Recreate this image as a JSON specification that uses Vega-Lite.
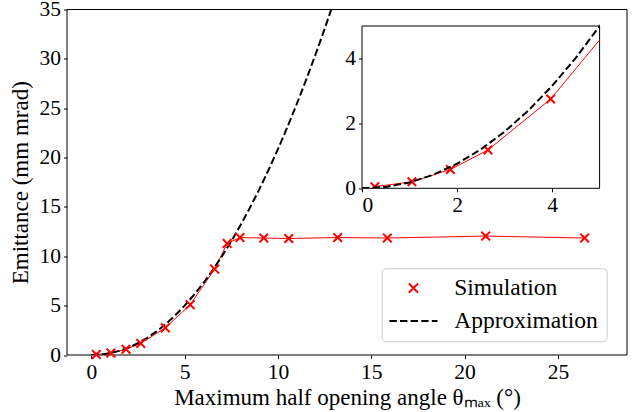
{
  "$schema": "https://vega.github.io/schema/vega-lite/v6.json",
  "autosize": {"type": "none"},
  "padding": {"left": 67, "top": 9.5, "right": 576, "bottom": 402.5},
  "bounds": "flush",
  "spacing": 0,
  "background": "white",
  "resolve": {"legend": {"color": "independent", "shape": "independent", "strokeDash": "independent"}, "scale": {"color": "independent", "shape": "independent", "strokeDash": "independent"}},
  "config": {
    "font": "Liberation Serif",
    "axis": {
      "labelFont": "Liberation Serif",
      "labelFontSize": 21.5,
      "labelColor": "black",
      "tickColor": "black",
      "domainColor": "black",
      "tickSize": 3.5,
      "labelPadding": 3,
      "grid": false,
      "titleFont": "Liberation Serif",
      "titleFontSize": 23,
      "titleFontWeight": "normal",
      "titleColor": "black"
    },
    "legend": {
      "orient": "none",
      "legendX": 314.7,
      "legendY": 258.8,
      "labelFont": "Liberation Serif",
      "labelFontSize": 23.5,
      "labelColor": "black",
      "padding": 8,
      "rowPadding": 8,
      "labelOffset": 29,
      "symbolOffset": 12,
      "symbolSize": 342,
      "symbolStrokeWidth": 2,
      "strokeColor": "#cccccc",
      "fillColor": "white",
      "cornerRadius": 4
    }
  },
  "datasets": {
    "sim": [
      {"t": 0.27, "e": 0.05},
      {"t": 1.05, "e": 0.2},
      {"t": 1.86, "e": 0.58},
      {"t": 2.65, "e": 1.18},
      {"t": 3.97, "e": 2.75},
      {"t": 5.3, "e": 5.1},
      {"t": 6.61, "e": 8.7},
      {"t": 7.28, "e": 11.3},
      {"t": 7.97, "e": 11.9},
      {"t": 9.24, "e": 11.85},
      {"t": 10.58, "e": 11.8},
      {"t": 13.2, "e": 11.9},
      {"t": 15.86, "e": 11.85},
      {"t": 21.13, "e": 12.05},
      {"t": 26.43, "e": 11.85}
    ],
    "approx": [
      {"t": 0, "e": 0},
      {"t": 0.5, "e": 0.043},
      {"t": 1, "e": 0.181},
      {"t": 1.5, "e": 0.418},
      {"t": 2, "e": 0.756},
      {"t": 2.5, "e": 1.197},
      {"t": 3, "e": 1.743},
      {"t": 3.5, "e": 2.395},
      {"t": 4, "e": 3.153},
      {"t": 4.5, "e": 4.02},
      {"t": 5, "e": 5.0},
      {"t": 5.5, "e": 6.08},
      {"t": 6, "e": 7.27},
      {"t": 6.5, "e": 8.58},
      {"t": 7, "e": 10.0},
      {"t": 7.5, "e": 11.52},
      {"t": 8, "e": 13.16},
      {"t": 8.5, "e": 14.92},
      {"t": 9, "e": 16.78},
      {"t": 9.5, "e": 18.76},
      {"t": 10, "e": 20.85},
      {"t": 10.5, "e": 23.06},
      {"t": 11, "e": 25.38},
      {"t": 11.5, "e": 27.82},
      {"t": 12, "e": 30.37},
      {"t": 12.5, "e": 33.03},
      {"t": 13, "e": 35.82}
    ],
    "mainframe": [{"x": -1.3, "x2": 28.7, "y": 0, "y2": 35}],
    "insetframe": [{"x": 0, "x2": 5, "y": 0, "y2": 5}]
  },
  "hconcat": [
    {
      "width": 294.7,
      "height": 345.5,
      "view": {"stroke": null},
      "layer": [
        {
          "data": {"name": "mainframe"},
          "mark": {"type": "rect", "fill": null, "fillOpacity": 0, "stroke": "black", "strokeWidth": 1},
          "encoding": {
            "x": {
              "field": "x",
              "type": "quantitative",
              "scale": {"domain": [-1.3, 28.7], "range": [0, 560], "nice": false, "zero": false},
              "axis": {"values": [0, 5, 10, 15, 20, 25], "title": "Maximum half opening angle θₘₐₓ (°)", "titlePadding": 3, "domain": false}
            },
            "x2": {"field": "x2"},
            "y": {
              "field": "y",
              "type": "quantitative",
              "scale": {"domain": [0, 35], "nice": false, "zero": false},
              "axis": {"values": [0, 5, 10, 15, 20, 25, 30, 35], "title": "Emittance (mm mrad)", "titlePadding": 7, "domain": false}
            },
            "y2": {"field": "y2"}
          }
        },
        {
          "data": {"name": "sim"},
          "mark": {"type": "line", "color": "red", "strokeWidth": 1},
          "encoding": {
            "x": {"field": "t", "type": "quantitative"},
            "y": {"field": "e", "type": "quantitative"}
          }
        },
        {
          "data": {"name": "approx"},
          "mark": {"type": "line", "color": "black", "strokeWidth": 2, "strokeDash": [7.4, 3.2], "clip": true},
          "encoding": {
            "x": {"field": "t", "type": "quantitative"},
            "y": {"field": "e", "type": "quantitative"}
          }
        },
        {
          "data": {"name": "sim"},
          "mark": {"type": "point", "filled": false, "strokeWidth": 2, "size": 300, "opacity": 1},
          "encoding": {
            "x": {"field": "t", "type": "quantitative"},
            "y": {"field": "e", "type": "quantitative"},
            "color": {
              "datum": "Simulation",
              "scale": {"domain": ["Simulation", "Approximation"], "range": ["red", "black"]},
              "legend": {"title": null}
            },
            "shape": {
              "datum": "Simulation",
              "scale": {"domain": ["Simulation", "Approximation"], "range": ["M-0.5,-0.5L0.5,0.5M-0.5,0.5L0.5,-0.5", "M-2.6,0L2.6,0"]},
              "legend": {"title": null}
            },
            "strokeDash": {
              "datum": "Simulation",
              "scale": {"domain": ["Simulation", "Approximation"], "range": [[1, 0], [7.4, 3.2]]},
              "legend": {"title": null}
            }
          }
        }
      ]
    },
    {
      "width": 237.6,
      "height": 178.8,
      "view": {"stroke": null},
      "layer": [
        {
          "data": {"name": "insetframe"},
          "mark": {"type": "rect", "fill": "white", "stroke": "black", "strokeWidth": 1},
          "encoding": {
            "x": {
              "field": "x",
              "type": "quantitative",
              "scale": {"domain": [0, 5], "nice": false, "zero": false},
              "axis": {"values": [0, 2, 4], "title": null, "domain": false, "orient": "bottom"}
            },
            "x2": {"field": "x2"},
            "y": {
              "field": "y",
              "type": "quantitative",
              "scale": {"domain": [0, 5], "range": [178.8, 16.5], "nice": false, "zero": false},
              "axis": {"values": [0, 2, 4], "title": null, "domain": false, "orient": "left"}
            },
            "y2": {"field": "y2"}
          }
        },
        {
          "data": {"name": "sim"},
          "mark": {"type": "line", "color": "red", "strokeWidth": 1, "clip": true},
          "encoding": {
            "x": {"field": "t", "type": "quantitative"},
            "y": {"field": "e", "type": "quantitative"}
          }
        },
        {
          "data": {"name": "sim"},
          "mark": {"type": "point", "shape": "M-1,-1L1,1M-1,1L1,-1", "filled": false, "strokeWidth": 2, "size": 72, "color": "red", "opacity": 1, "clip": true},
          "encoding": {
            "x": {"field": "t", "type": "quantitative"},
            "y": {"field": "e", "type": "quantitative"}
          }
        },
        {
          "data": {"name": "approx"},
          "mark": {"type": "line", "color": "black", "strokeWidth": 2, "strokeDash": [7.4, 3.2], "clip": true},
          "encoding": {
            "x": {"field": "t", "type": "quantitative"},
            "y": {"field": "e", "type": "quantitative"}
          }
        }
      ]
    }
  ]
}
